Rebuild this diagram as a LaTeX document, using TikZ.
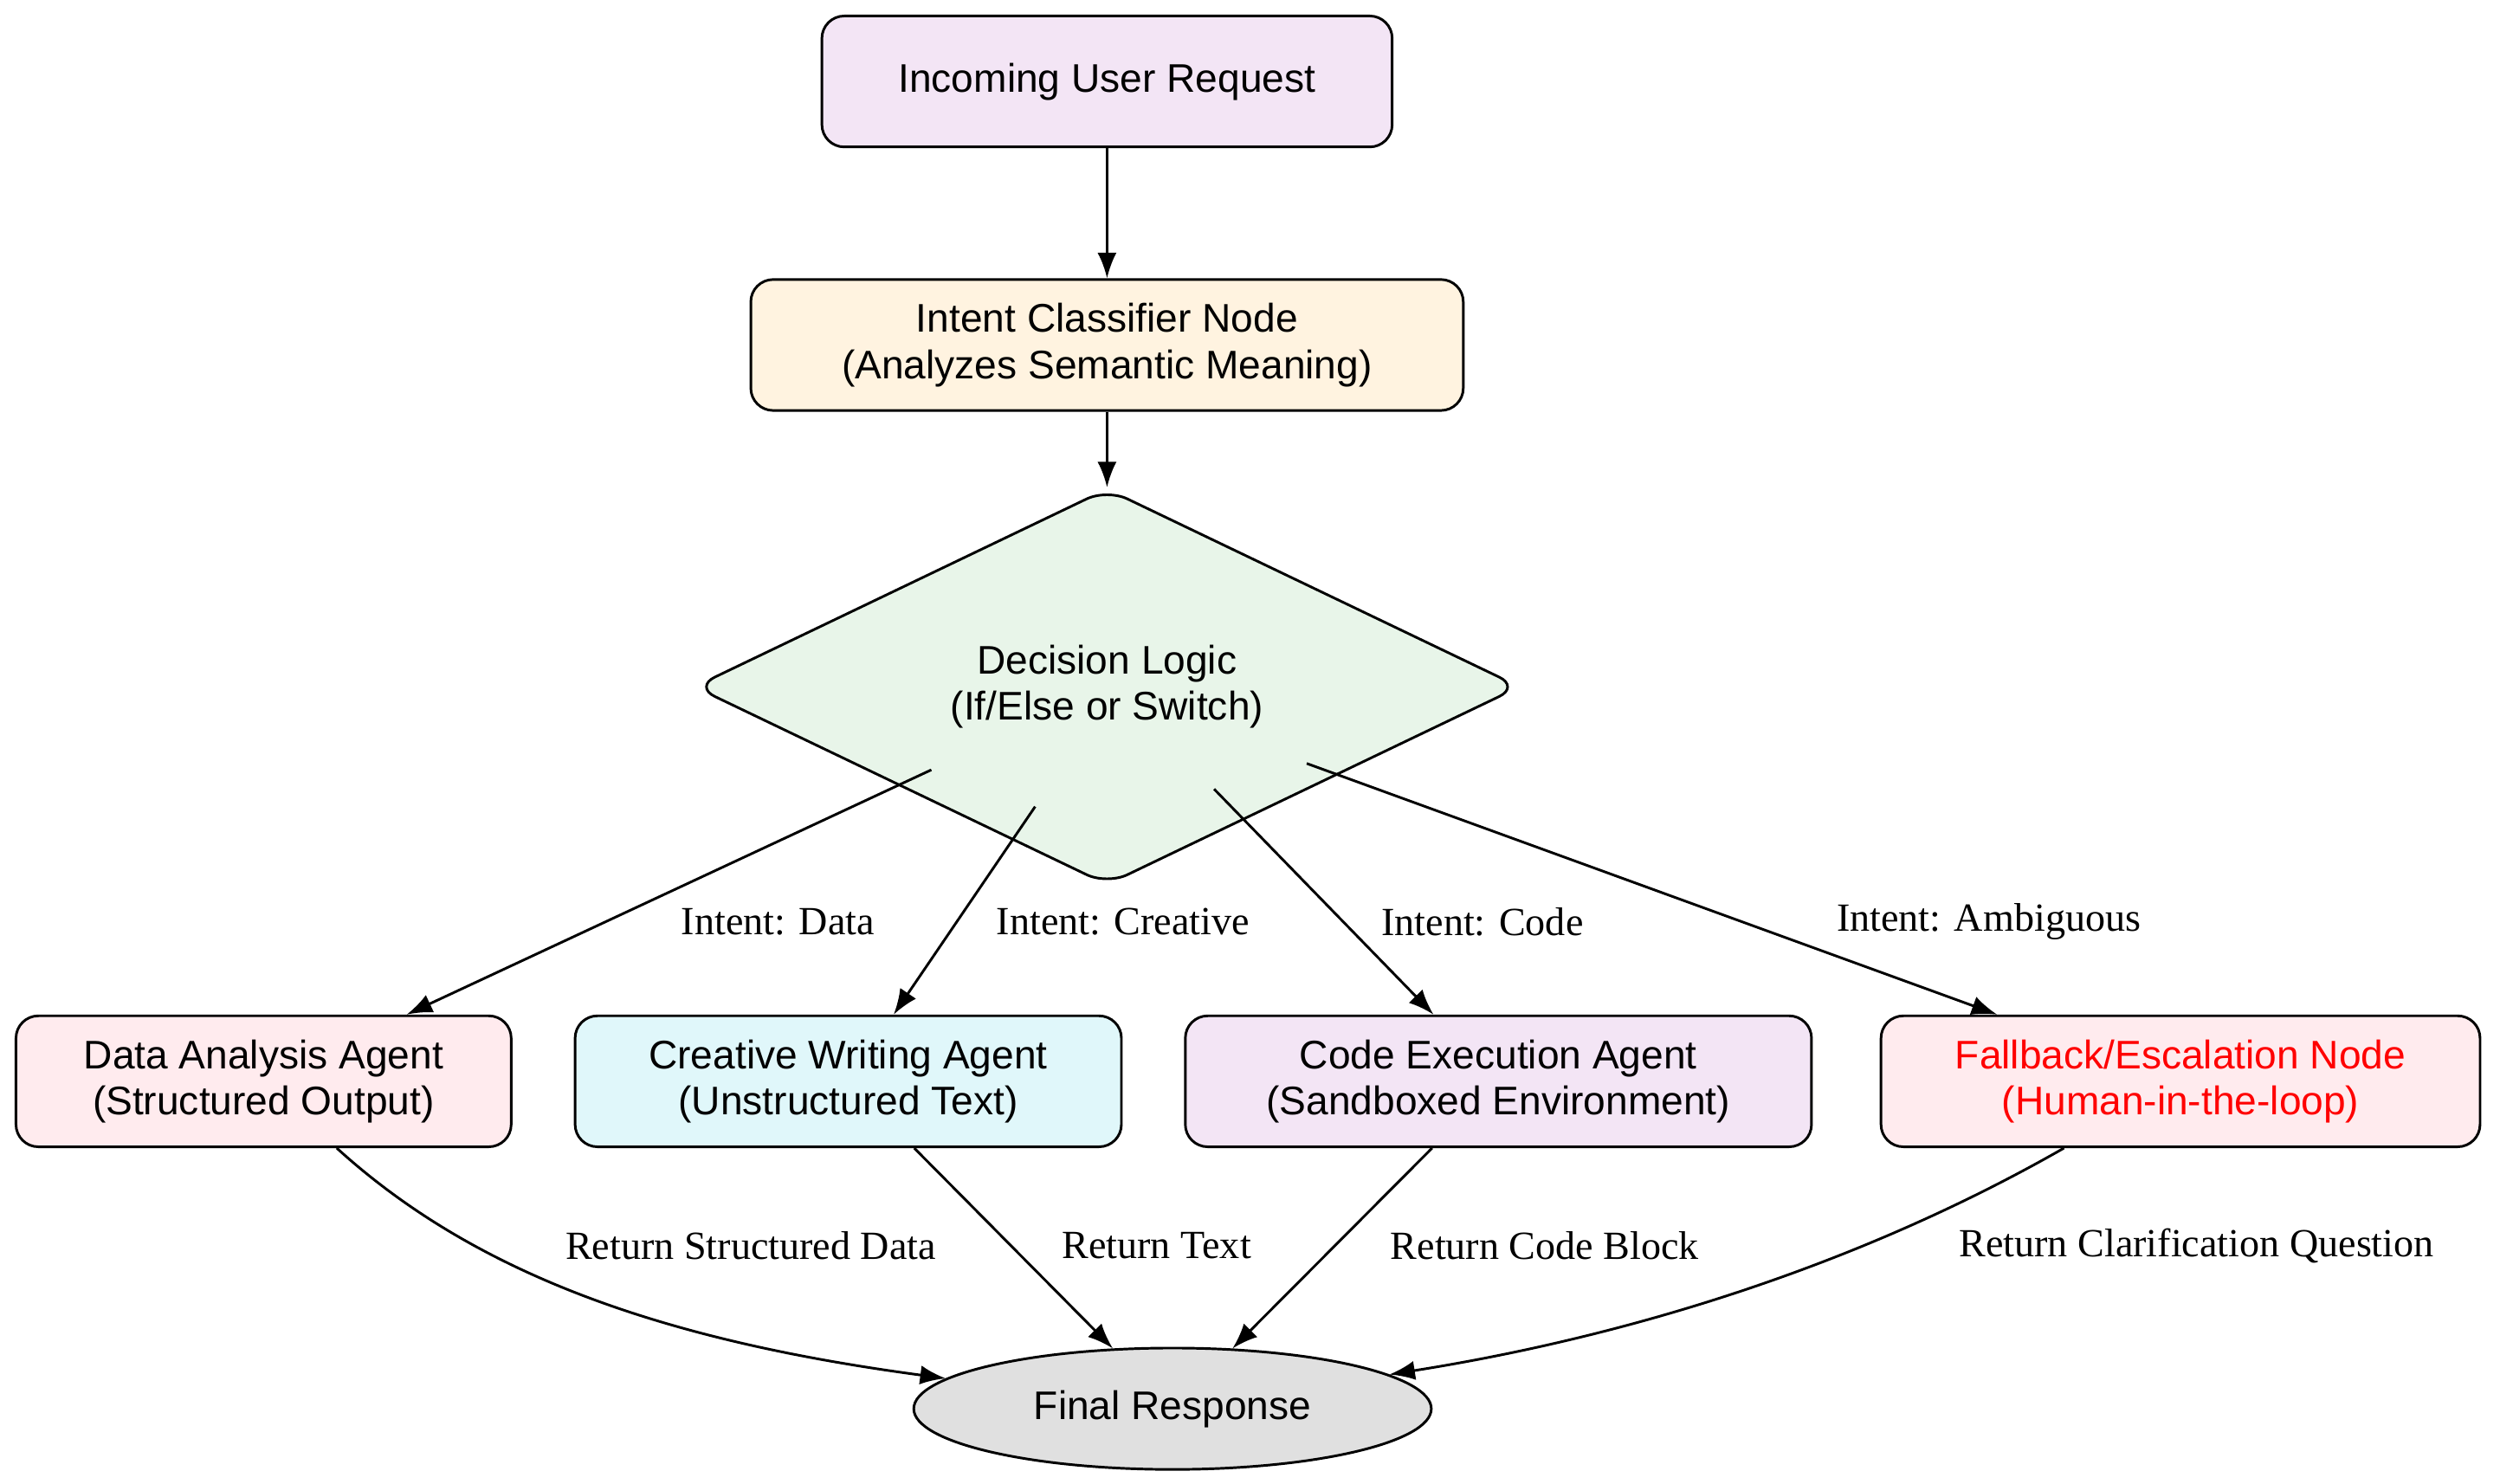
\documentclass[tikz,border=0pt]{standalone}
\usepackage{fontspec}
\setmainfont{Liberation Serif}
\setsansfont{Liberation Sans}
\usetikzlibrary{shapes.geometric,arrows.meta}
\tikzset{
  box/.style={draw, rounded corners=14pt, line width=1.6pt, minimum height=82pt,
    align=center, font=\sffamily\fontsize{25}{29}\selectfont},
  decide/.style={draw, diamond, rounded corners=14pt, line width=1.6pt, fill=decgreen,
    minimum width=517pt, minimum height=164pt, inner sep=0pt, align=center,
    font=\sffamily\fontsize{25}{29}\selectfont},
  flow/.style={line width=1.6pt, -{Latex[length=16pt,width=12pt]}},
  elabel/.style={font=\fontsize{25}{29}\selectfont, inner sep=0pt}
}
\definecolor{reqpurple}{HTML}{F3E5F5}
\definecolor{intorange}{HTML}{FFF3E0}
\definecolor{decgreen}{HTML}{E8F5E9}
\definecolor{datapink}{HTML}{FFEBEE}
\definecolor{creacyan}{HTML}{E0F7FA}
\definecolor{fingray}{HTML}{E0E0E0}
\begin{document}
\begin{tikzpicture}[x=1pt,y=-1pt]
  \useasboundingbox (0,0) rectangle (1565,929);
  % nodes
  \node[box, fill=reqpurple, minimum width=357pt] (request) at (693,51) {Incoming User Request};
  \node[box, fill=intorange, minimum width=446pt] (classifier) at (693,216) {Intent Classifier Node\\(Analyzes Semantic Meaning)};
  \node[decide] (logic) at (693,430) {Decision Logic\\(If/Else or Switch)};
  \node[box, fill=datapink, minimum width=310pt] (dataagent) at (165,677) {Data Analysis Agent\\(Structured Output)};
  \node[box, fill=creacyan, minimum width=342pt] (creative) at (531,677) {Creative Writing Agent\\(Unstructured Text)};
  \node[box, fill=reqpurple, minimum width=392pt] (codeagent) at (938,677) {Code Execution Agent\\(Sandboxed Environment)};
  \node[box, fill=datapink, minimum width=375pt, text=red] (fallback) at (1365,677) {Fallback/Escalation Node\\(Human-in-the-loop)};
  \node[draw, ellipse, fill=fingray, line width=1.6pt, minimum width=324pt, minimum height=76pt,
    font=\sffamily\fontsize{25}{29}\selectfont] (final) at (734,882) {Final Response};
  % connectors
  \draw[flow] (request) -- (classifier);
  \draw[flow] (classifier) -- (logic);
  \draw[flow] (583,482) -- (dataagent);
  \draw[flow] (648,505) -- (creative);
  \draw[flow] (760,494) -- (codeagent);
  \draw[flow] (818,478) -- (fallback);
  \draw[flow] (dataagent) .. controls (300,800) and (420,840) .. (final);
  \draw[flow] (creative) -- (final);
  \draw[flow] (codeagent) -- (final);
  \draw[flow] (fallback) .. controls (1150,800) and (1000,840) .. (final);
  % labels
  \node[elabel] (ldata) at (487,577) {Intent: Data};
  \node[elabel] (lcrea) at (703,577) {Intent: Creative};
  \node[elabel] (lcode) at (928,577) {Intent: Code};
  \node[elabel] (lamb) at (1245,577) {Intent: Ambiguous};
  \node[elabel] (rdata) at (470,780) {Return Structured Data};
  \node[elabel] (rtext) at (724,780) {Return Text};
  \node[elabel] (rcode) at (967,780) {Return Code Block};
  \node[elabel] (rclar) at (1375,780) {Return Clarification Question};
\end{tikzpicture}
\end{document}
